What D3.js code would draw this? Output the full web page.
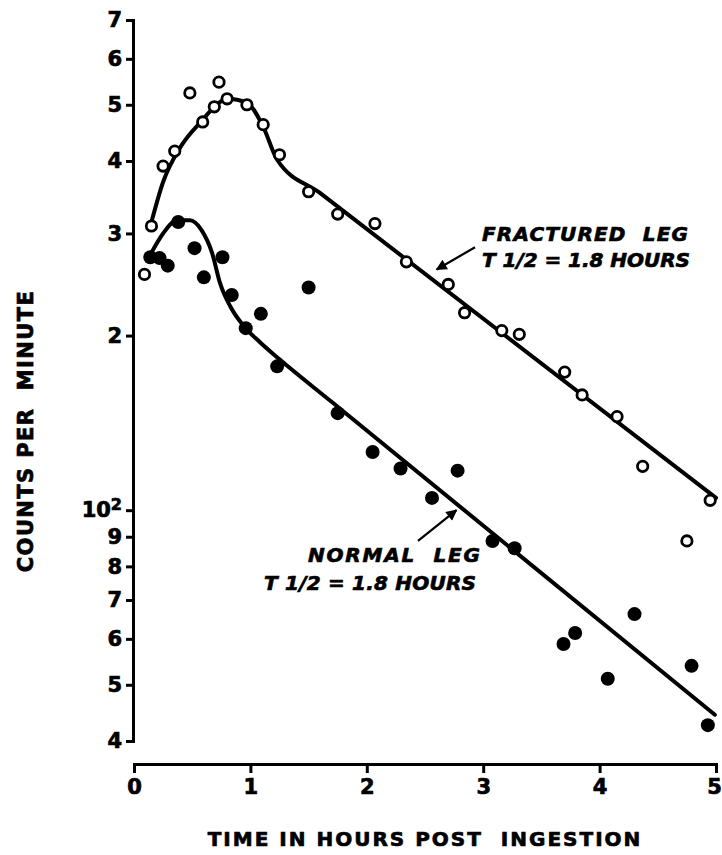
<!DOCTYPE html>
<html>
<head>
<meta charset="utf-8">
<script src="https://cdn.jsdelivr.net/npm/d3@7"></script>
<style>
  body { margin: 0; background: #fff; }
  text { font-family: "DejaVu Sans", sans-serif; font-weight: bold; fill: #000; }
</style>
</head>
<body>
<div id="chart"></div>
<script>
// svg area
const svg_width = 722;
const svg_height = 855;

// open circles: fractured leg
const fracturedTime = [0.09, 0.15, 0.25, 0.35, 0.48, 0.59, 0.69, 0.73, 0.80, 0.97, 1.11, 1.25,
  1.50, 1.75, 2.07, 2.34, 2.70, 2.84, 3.16, 3.31, 3.70, 3.85, 4.15, 4.37, 4.75, 4.95];
const fracturedCounts = [255, 309, 392, 416, 524, 467, 496, 547, 512, 500, 462, 410,
  354, 324, 312, 268, 245, 219, 204, 201, 173, 158, 145, 119, 88.5, 104];

// filled circles: normal leg
const normalTime = [0.14, 0.22, 0.29, 0.38, 0.52, 0.60, 0.76, 0.84, 0.96, 1.09, 1.23, 1.50,
  1.75, 2.05, 2.29, 2.56, 2.78, 3.08, 3.27, 3.69, 3.79, 4.07, 4.30, 4.79, 4.93];
const normalCounts = [273, 272, 264, 314, 283, 252, 273, 235, 206, 218, 177, 242,
  147, 126, 118, 105, 117, 88.5, 86, 58.8, 61.4, 51.2, 66.2, 53.9, 42.6];

// hand drawn fit curves (rise, fall, then straight exponential decay)
const fracturedFitTime = [0.15, 0.25, 0.40, 0.59, 0.70, 0.80, 0.97, 1.11, 1.23, 1.6, 5.0];
const fracturedFitCounts = [314, 368, 423, 471, 498, 512, 504, 458, 402, 352, 105];
const normalFitTime = [0.15, 0.25, 0.37, 0.48, 0.58, 0.67, 0.74, 0.83, 0.94, 1.08, 1.25, 1.7, 4.99];
const normalFitCounts = [278, 300, 316, 316, 304, 278, 246, 224, 208, 195, 182, 153.6, 44.4];

// axis ticks
const xTickValues = [0, 1, 2, 3, 4, 5];
const yTickValues = [40, 50, 60, 70, 80, 90, 100, 200, 300, 400, 500, 600, 700];
const yTickLabels = ["4", "5", "6", "7", "8", "9", "10", "2", "3", "4", "5", "6", "7"];

let svg = d3.select("#chart")
  .append("svg")
    .attr("width", svg_width)
    .attr("height", svg_height);

const x = d3.scaleLinear().domain([0, 5]).range([134, 716]);
const y = d3.scaleLog().domain([40, 700]).range([741, 20]);

function heavy(sel, size) {
  sel.style("font-size", size + "px")
     .style("font-family", "DejaVu Sans")
     .style("font-weight", "bold")
     .attr("fill", "#000")
     .attr("stroke", "#000")
     .attr("stroke-width", 0.7);
}

// y axis
let yAxis = svg.append("g")
    .attr("transform", "translate(133,0)")
    .call(d3.axisLeft(y)
      .tickValues(yTickValues)
      .tickSize(7)
      .tickSizeOuter(7)
      .tickPadding(4)
      .tickFormat((d, i) => yTickLabels[i]));
yAxis.selectAll("path, line").attr("stroke", "#000").attr("stroke-width", 3);
heavy(yAxis.selectAll("text"), 21);
// superscript for 10^2
yAxis.selectAll(".tick text")
    .filter(d => d === 100)
    .text("10")
    .append("tspan")
      .attr("dy", "-0.45em")
      .style("font-size", "16px")
      .text("2");

// x axis
let xAxis = svg.append("g")
    .attr("transform", "translate(0,764)")
    .call(d3.axisBottom(x)
      .tickValues(xTickValues)
      .tickSize(9)
      .tickSizeOuter(9)
      .tickPadding(6)
      .tickFormat(d3.format("d")));
xAxis.selectAll("path, line").attr("stroke", "#000").attr("stroke-width", 3);
heavy(xAxis.selectAll("text"), 21);
// keep the last label inside the page
xAxis.selectAll(".tick text").filter(d => d === 5).attr("dx", "-2");

// axis titles
let xTitle = svg.append("text")
    .attr("x", 425)
    .attr("y", 846)
    .attr("text-anchor", "middle")
    .attr("xml:space", "preserve")
    .style("letter-spacing", "2px")
    .text("TIME IN HOURS POST  INGESTION");
heavy(xTitle, 20);

let yTitle = svg.append("text")
    .attr("transform", "translate(33,431) rotate(-90)")
    .attr("text-anchor", "middle")
    .attr("xml:space", "preserve")
    .style("letter-spacing", "1.4px")
    .text("COUNTS PER  MINUTE");
heavy(yTitle, 21);

// fit curves
const line = d3.line()
    .x(d => x(d[0]))
    .y(d => y(d[1]))
    .curve(d3.curveMonotoneX);

[[fracturedFitTime, fracturedFitCounts], [normalFitTime, normalFitCounts]].forEach(f => {
  svg.append("path")
      .datum(d3.zip(f[0], f[1]))
      .attr("d", line)
      .attr("fill", "none")
      .attr("stroke", "#000")
      .attr("stroke-width", 4)
      .attr("stroke-linecap", "round");
});

// points
svg.append("g").selectAll("circle")
  .data(d3.zip(normalTime, normalCounts))
  .join("circle")
    .attr("cx", d => x(d[0]))
    .attr("cy", d => y(d[1]))
    .attr("r", 7)
    .attr("fill", "#000");

svg.append("g").selectAll("circle")
  .data(d3.zip(fracturedTime, fracturedCounts))
  .join("circle")
    .attr("cx", d => x(d[0]))
    .attr("cy", d => y(d[1]))
    .attr("r", 5.2)
    .attr("fill", "#fff")
    .attr("stroke", "#000")
    .attr("stroke-width", 2.8);

// arrows pointing to the curves
svg.append("defs").append("marker")
    .attr("id", "arrow")
    .attr("viewBox", "0 0 10 10")
    .attr("refX", 9)
    .attr("refY", 5)
    .attr("markerWidth", 6)
    .attr("markerHeight", 5)
    .attr("orient", "auto")
  .append("path")
    .attr("d", "M0,0L10,5L0,10Z")
    .attr("fill", "#000");

const arrows = [[[2.93, 284], [2.60, 260]], [[2.44, 88.5], [2.77, 100]]];
arrows.forEach(a => {
  svg.append("line")
      .attr("x1", x(a[0][0])).attr("y1", y(a[0][1]))
      .attr("x2", x(a[1][0])).attr("y2", y(a[1][1]))
      .attr("stroke", "#000")
      .attr("stroke-width", 2.2)
      .attr("marker-end", "url(#arrow)");
});

// curve labels
const labels = [
  {x: 482, y: 241, w: 206, text: "FRACTURED  LEG"},
  {x: 482, y: 267, w: 208, text: "T 1/2 = 1.8 HOURS"},
  {x: 308, y: 562, w: 172, text: "NORMAL  LEG"},
  {x: 264, y: 590, w: 212, text: "T 1/2 = 1.8 HOURS"}
];
let lab = svg.append("g").selectAll("text")
  .data(labels)
  .join("text")
    .attr("x", d => d.x)
    .attr("y", d => d.y)
    .attr("textLength", d => d.w)
    .attr("lengthAdjust", "spacing")
    .attr("xml:space", "preserve")
    .style("font-style", "italic")
    .text(d => d.text);
heavy(lab, 20);
</script>
</body>
</html>
